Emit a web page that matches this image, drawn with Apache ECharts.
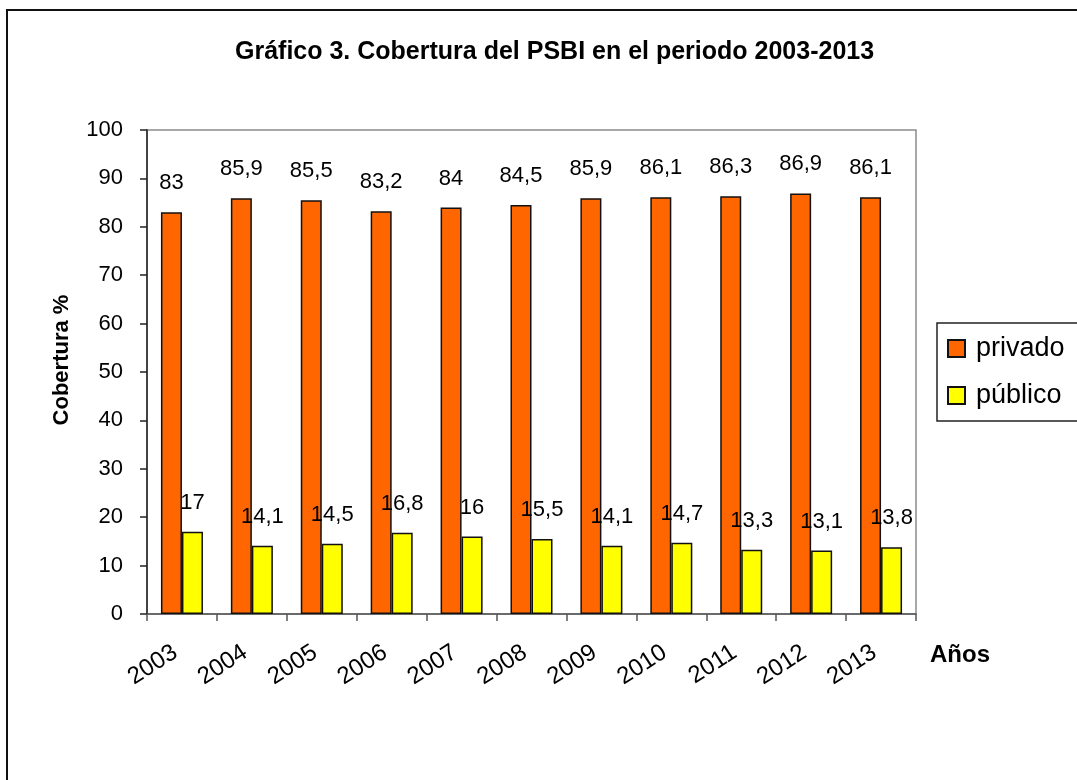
<!DOCTYPE html>
<html>
<head>
<meta charset="utf-8">
<script src="https://cdn.jsdelivr.net/npm/echarts@6/dist/echarts.min.js"></script>
<style>
    html, body { margin: 0; padding: 0; background: #fff; }
    #chart { width: 1077px; height: 780px; }
</style>
</head>
<body>
<div id="chart"></div>
<script>
// años y cobertura (%)
const years = ['2003', '2004', '2005', '2006', '2007', '2008', '2009', '2010', '2011', '2012', '2013']
const privado = [83, 85.9, 85.5, 83.2, 84, 84.5, 85.9, 86.1, 86.3, 86.9, 86.1]
const publico = [17, 14.1, 14.5, 16.8, 16, 15.5, 14.1, 14.7, 13.3, 13.1, 13.8]

const fontFamily = '"Liberation Sans", Arial, sans-serif'
const comma = p => String(p.value).replace('.', ',')

const chart = echarts.init(document.getElementById('chart'))
const option = {
    backgroundColor: '#fff',
    textStyle: { fontFamily: fontFamily, color: '#000' },
    title: {
        text: 'Gráfico 3. Cobertura del PSBI en el periodo 2003-2013',
        left: 230,
        top: 35,
        textStyle: { fontSize: 25, fontWeight: 'bold', color: '#000', fontFamily: fontFamily }
    },
    grid: {
        left: 147,
        right: 161,
        top: 130,
        bottom: 166,
        show: true,
        borderColor: '#8c8c8c',
        borderWidth: 1.5
    },
    legend: {
        orient: 'vertical',
        left: 937,
        top: 323,
        padding: [12, 14, 12, 10],
        itemGap: 20,
        itemWidth: 17,
        itemHeight: 17,
        icon: 'rect',
        borderColor: '#222',
        borderWidth: 1.5,
        textStyle: { fontSize: 27, color: '#000', padding: [0, 0, 0, 6], fontFamily: fontFamily },
        data: ['privado', 'público']
    },
    xAxis: {
        type: 'category',
        data: years,
        axisLine: { lineStyle: { color: '#555', width: 1.5 } },
        axisTick: { show: true, length: 7, lineStyle: { color: '#555', width: 1.5 } },
        axisLabel: { rotate: 33, margin: 32, fontSize: 24, padding: [0, 8, 0, 0], color: '#000', fontFamily: fontFamily }
    },
    yAxis: {
        type: 'value',
        min: 0,
        max: 100,
        interval: 10,
        splitLine: { show: false },
        axisLine: { show: true, lineStyle: { color: '#222', width: 1.5 } },
        axisTick: { show: true, length: 7, lineStyle: { color: '#222', width: 1.5 } },
        axisLabel: { fontSize: 22, margin: 24, color: '#000', fontFamily: fontFamily }
    },
    graphic: [
        {
            type: 'rect',
            shape: { x: 7, y: 10, width: 1100, height: 800 },
            style: { fill: 'none', stroke: '#111', lineWidth: 2 },
            silent: true
        },
        {
            type: 'text',
            x: 62,
            y: 360,
            rotation: Math.PI / 2,
            style: {
                text: 'Cobertura %', fontSize: 22, fontWeight: 'bold', fill: '#000',
                align: 'center', verticalAlign: 'middle', fontFamily: fontFamily
            }
        },
        {
            type: 'text',
            left: 930,
            top: 643,
            style: { text: 'Años', fontSize: 24, fontWeight: 'bold', fill: '#000', fontFamily: fontFamily }
        }
    ],
    series: [
        {
            name: 'privado',
            type: 'bar',
            data: privado,
            barWidth: 21,
            barGap: '0%',
            itemStyle: { color: '#ff6600', borderColor: '#111', borderWidth: 1.5 },
            label: { show: true, position: 'top', distance: 18, fontSize: 22, color: '#000', formatter: comma, fontFamily: fontFamily }
        },
        {
            name: 'público',
            type: 'bar',
            data: publico,
            barWidth: 21,
            itemStyle: { color: '#ffff00', borderColor: '#111', borderWidth: 1.5 },
            label: { show: true, position: 'top', distance: 18, fontSize: 22, color: '#000', formatter: comma, fontFamily: fontFamily }
        }
    ]
}
chart.setOption(option)
</script>
</body>
</html>
